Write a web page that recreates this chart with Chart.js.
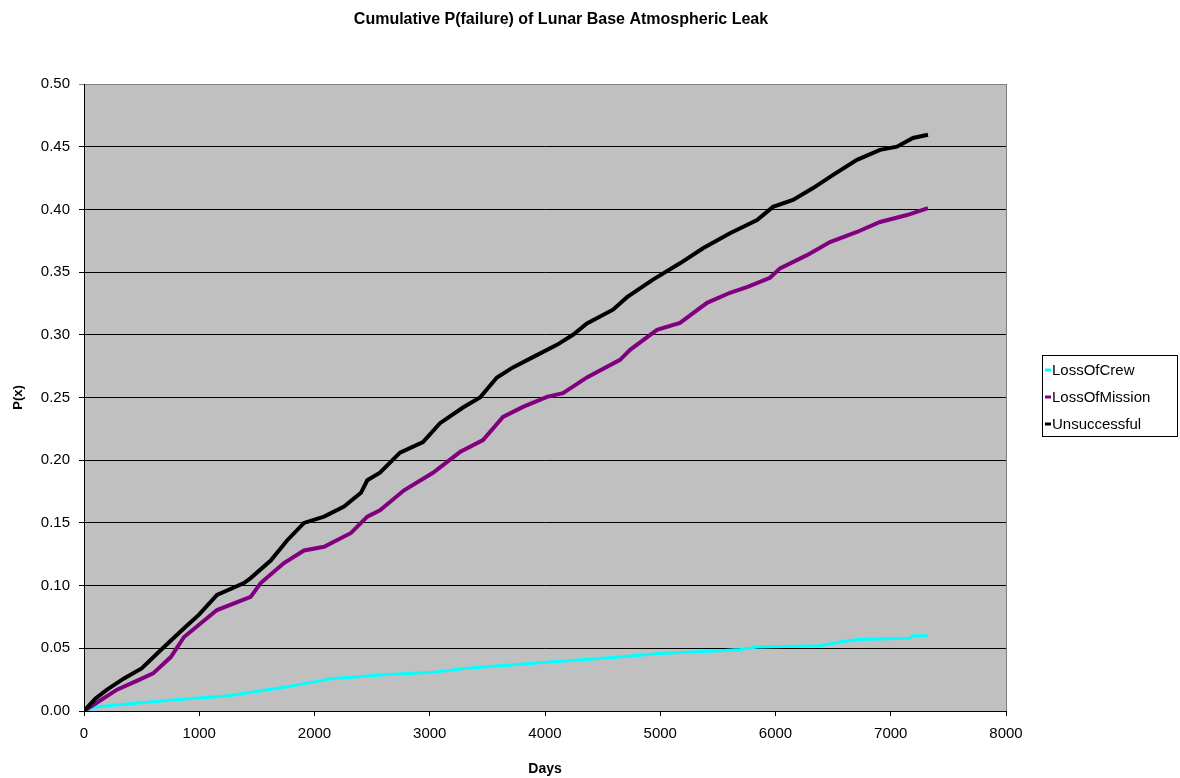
<!DOCTYPE html>
<html>
<head>
<meta charset="utf-8">
<script src="https://cdn.jsdelivr.net/npm/chart.js@4/dist/chart.umd.min.js"></script>
<style>
  html, body { margin: 0; padding: 0; background: #fff; }
  #wrap { width: 1180px; height: 778px; }
</style>
</head>
<body>
<div id="wrap"><canvas id="myChart" width="1180" height="778"></canvas></div>
<script>
const chartTitle = 'Cumulative P(failure) of Lunar Base Atmospheric Leak';
const seriesNames = ['LossOfCrew', 'LossOfMission', 'Unsuccessful'];
const seriesColors = ['#00ffff', '#800080', '#000000'];

const crewDays = [0, 87, 300, 868, 1240, 1735, 2170, 2603, 3037, 3323, 3757, 4043, 4503, 5024, 5518, 5692, 5840, 6386, 6560, 6707, 7167, 7193, 7323];
const crewP = [0, 0.003, 0.005, 0.0095, 0.012, 0.019, 0.026, 0.029, 0.031, 0.034, 0.037, 0.039, 0.042, 0.046, 0.048, 0.049, 0.051, 0.052, 0.055, 0.057, 0.058, 0.060, 0.060];

const missionDays = [0, 100, 286, 458, 600, 753, 868, 1154, 1446, 1533, 1735, 1909, 2083, 2317, 2458, 2568, 2777, 3028, 3262, 3462, 3636, 3809, 4017, 4156, 4364, 4651, 4738, 4972, 5171, 5406, 5605, 5752, 5952, 6039, 6273, 6473, 6707, 6907, 7141, 7323];
const missionP = [0, 0.006, 0.017, 0.024, 0.030, 0.043, 0.059, 0.0805, 0.091, 0.102, 0.118, 0.128, 0.131, 0.142, 0.155, 0.160, 0.176, 0.190, 0.2065, 0.216, 0.2345, 0.2425, 0.2505, 0.2535, 0.266, 0.280, 0.288, 0.304, 0.3095, 0.3255, 0.3335, 0.338, 0.3455, 0.353, 0.3635, 0.374, 0.382, 0.390, 0.3955, 0.401];

const unsuccDays = [0, 100, 200, 347, 500, 694, 868, 1000, 1154, 1388, 1446, 1620, 1762, 1909, 2083, 2256, 2403, 2458, 2568, 2742, 2941, 3089, 3288, 3436, 3583, 3722, 3870, 4104, 4243, 4364, 4590, 4712, 4937, 5171, 5371, 5605, 5840, 5978, 6152, 6326, 6500, 6707, 6907, 7054, 7193, 7323];
const unsuccP = [0, 0.010, 0.017, 0.026, 0.034, 0.051, 0.066, 0.077, 0.0925, 0.102, 0.106, 0.120, 0.136, 0.150, 0.155, 0.163, 0.174, 0.184, 0.190, 0.206, 0.2145, 0.2295, 0.242, 0.250, 0.266, 0.274, 0.281, 0.292, 0.300, 0.309, 0.320, 0.330, 0.344, 0.357, 0.369, 0.381, 0.3915, 0.402, 0.4075, 0.417, 0.4275, 0.4395, 0.4475, 0.450, 0.457, 0.4595];

const xTicks = [0, 1000, 2000, 3000, 4000, 5000, 6000, 7000, 8000];
const yTicks = [0, 0.05, 0.10, 0.15, 0.20, 0.25, 0.30, 0.35, 0.40, 0.45, 0.50];

const FONT = 'Arial, "Liberation Sans", sans-serif';

function toPoints(days, vals) {
  return days.map((d, i) => ({ x: d, y: vals[i] }));
}

// gray plot area, title and boxed legend like the Excel original
const excelLook = {
  id: 'excelLook',
  beforeDraw(chart) {
    const { ctx, chartArea: a } = chart;
    ctx.save();
    ctx.fillStyle = '#c0c0c0';
    ctx.fillRect(a.left, a.top, a.right - a.left, a.bottom - a.top);
    ctx.restore();
  },
  afterDraw(chart) {
    const { ctx, chartArea: a } = chart;
    ctx.save();
    // right plot border
    ctx.strokeStyle = '#808080';
    ctx.lineWidth = 1;
    ctx.beginPath();
    ctx.moveTo(a.right + 0.5, a.top);
    ctx.lineTo(a.right + 0.5, a.bottom);
    ctx.stroke();

    // title
    ctx.fillStyle = '#000';
    ctx.font = 'bold 16px ' + FONT;
    ctx.textAlign = 'center';
    ctx.textBaseline = 'middle';
    ctx.fillText(chartTitle, 561, 20);

    // legend
    ctx.strokeStyle = '#000';
    ctx.strokeRect(1042.5, 355.5, 135, 81);
    ctx.font = '15px ' + FONT;
    ctx.textAlign = 'left';
    chart.data.datasets.forEach((ds, i) => {
      const y = 370 + i * 27;
      ctx.strokeStyle = ds.borderColor;
      ctx.lineWidth = 3;
      ctx.beginPath();
      ctx.moveTo(1045, y);
      ctx.lineTo(1051, y);
      ctx.stroke();
      ctx.fillStyle = '#000';
      ctx.fillText(ds.label, 1052, y + 1);
    });
    ctx.restore();
  }
};

const ctx = document.getElementById('myChart').getContext('2d');
new Chart(ctx, {
  type: 'line',
  data: {
    datasets: [
      { label: seriesNames[0], data: toPoints(crewDays, crewP), borderColor: seriesColors[0], borderWidth: 3, order: 3 },
      { label: seriesNames[1], data: toPoints(missionDays, missionP), borderColor: seriesColors[1], borderWidth: 4, order: 2 },
      { label: seriesNames[2], data: toPoints(unsuccDays, unsuccP), borderColor: seriesColors[2], borderWidth: 4, order: 1 }
    ]
  },
  options: {
    responsive: false,
    animation: false,
    events: [],
    elements: { point: { radius: 0 }, line: { tension: 0 } },
    layout: { padding: { top: 84, right: 174, bottom: 0, left: 0 } },
    plugins: { legend: { display: false }, title: { display: false }, tooltip: { enabled: false } },
    scales: {
      x: {
        type: 'linear',
        min: 0,
        max: 8000,
        afterFit: s => { s.height = 67; },
        afterBuildTicks: s => { s.ticks = xTicks.map(v => ({ value: v })); },
        ticks: { color: '#000', font: { family: FONT, size: 15 }, padding: 9, maxRotation: 0, callback: v => String(v) },
        grid: { drawOnChartArea: false, color: '#000', tickLength: 5 },
        border: { color: '#000' },
        title: { display: true, text: 'Days', color: '#000', font: { family: FONT, size: 14, weight: 'bold' }, padding: { top: 6, bottom: 0 } }
      },
      y: {
        min: 0,
        max: 0.5,
        afterFit: s => { s.width = 84; },
        afterBuildTicks: s => { s.ticks = yTicks.map(v => ({ value: v })); },
        ticks: { color: '#000', font: { family: FONT, size: 15 }, padding: 9, callback: v => v.toFixed(2) },
        grid: {
          color: c => (c.tick && c.tick.value >= 0.5 ? '#808080' : '#000'),
          tickLength: 5
        },
        border: { color: '#000' },
        title: { display: true, text: 'P(x)', color: '#000', font: { family: FONT, size: 13, weight: 'bold' }, padding: { top: 11, bottom: 4 } }
      }
    }
  },
  plugins: [excelLook]
});
</script>
</body>
</html>
